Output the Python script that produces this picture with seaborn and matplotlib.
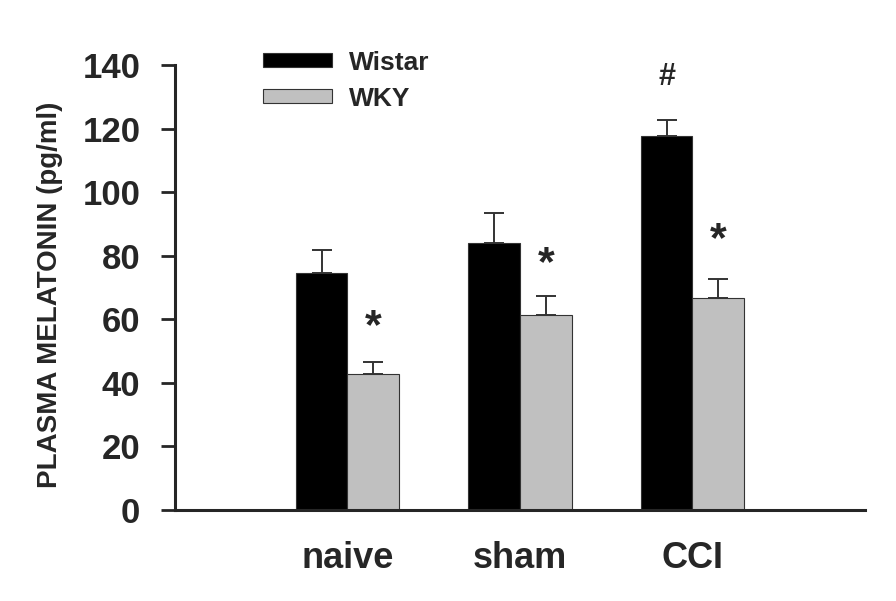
import numpy as np
import pandas as pd
import matplotlib
matplotlib.use("Agg")
import matplotlib.pyplot as plt
import seaborn as sns

# values
groups = ["naive", "sham", "CCI"]
strains = ["Wistar", "WKY"]
wistar_mean = [74.5, 83.9, 117.6]
wky_mean = [42.8, 61.3, 66.8]
wistar_sem = [7.3, 9.6, 5.1]
wky_sem = [3.7, 6.0, 5.9]
# significance marks: (group, strain, symbol, height)
marks = [("naive", "WKY", "*", 57.7), ("sham", "WKY", "*", 77.4),
         ("CCI", "WKY", "*", 84.9), ("CCI", "Wistar", "#", 136.3)]

df = pd.DataFrame({
    "group": groups * 2,
    "strain": ["Wistar"] * 3 + ["WKY"] * 3,
    "mean": wistar_mean + wky_mean,
    "sem": wistar_sem + wky_sem,
})

sns.set_style("ticks")
plt.rcParams["font.family"] = ["Liberation Sans", "DejaVu Sans"]
plt.rcParams["font.weight"] = "bold"

fig = plt.figure(figsize=(8.96, 6.01), dpi=100)
ax = fig.add_axes([0.1953, 0.1514, 0.7701, 0.7404])

sns.barplot(data=df, x="group", y="mean", hue="strain", order=groups,
            hue_order=strains, palette=["black", "#c0c0c0"], width=0.6,
            edgecolor="#333333", linewidth=0.8, errorbar=None, ax=ax)

# upward-only error bars, placed on the bars seaborn drew
for cont, strain in zip(ax.containers, strains):
    sub = df[df.strain == strain].set_index("group").loc[groups]
    xs = [p.get_x() + p.get_width() / 2 for p in cont.patches]
    ax.errorbar(xs, sub["mean"], yerr=[np.zeros(len(xs)), sub["sem"]],
                fmt="none", ecolor="#333333", elinewidth=1.4, capsize=7,
                capthick=1.4, zorder=1)

for cont, strain in zip(ax.containers, strains):
    for p, g in zip(cont.patches, groups):
        for mg, ms, sym, h in marks:
            if mg == g and ms == strain:
                ax.text(p.get_x() + p.get_width() / 2, h, sym,
                        ha="center", va="center",
                        fontsize=31 if sym == "*" else 22, fontweight="bold")

ax.set_xlim(-1, 3)
ax.set_ylim(0, 140)
ax.set_yticks(range(0, 141, 20))
ax.set_xlabel("")
ax.set_ylabel("PLASMA MELATONIN (pg/ml)", fontsize=20, fontweight="bold")
ax.yaxis.set_label_coords(-0.162, 0.483)
ax.tick_params(axis="y", direction="out", length=10, width=2,
               labelsize=25, pad=15)
ax.tick_params(axis="x", length=0, labelsize=26, pad=22)
for lab in ax.get_xticklabels() + ax.get_yticklabels():
    lab.set_fontweight("bold")
sns.despine(ax=ax)
ax.spines["left"].set_linewidth(2.2)
ax.spines["bottom"].set_linewidth(2.2)

handles, labels = ax.get_legend_handles_labels()
ax.legend(handles, labels, loc="upper left", bbox_to_anchor=(0.1275, 1.032),
          frameon=False, handlelength=2.6, handleheight=0.45,
          labelspacing=0.45, handletextpad=0.65, borderpad=0, borderaxespad=0,
          prop={"weight": "bold", "size": 19})

fig.savefig("out.png", dpi=100)
